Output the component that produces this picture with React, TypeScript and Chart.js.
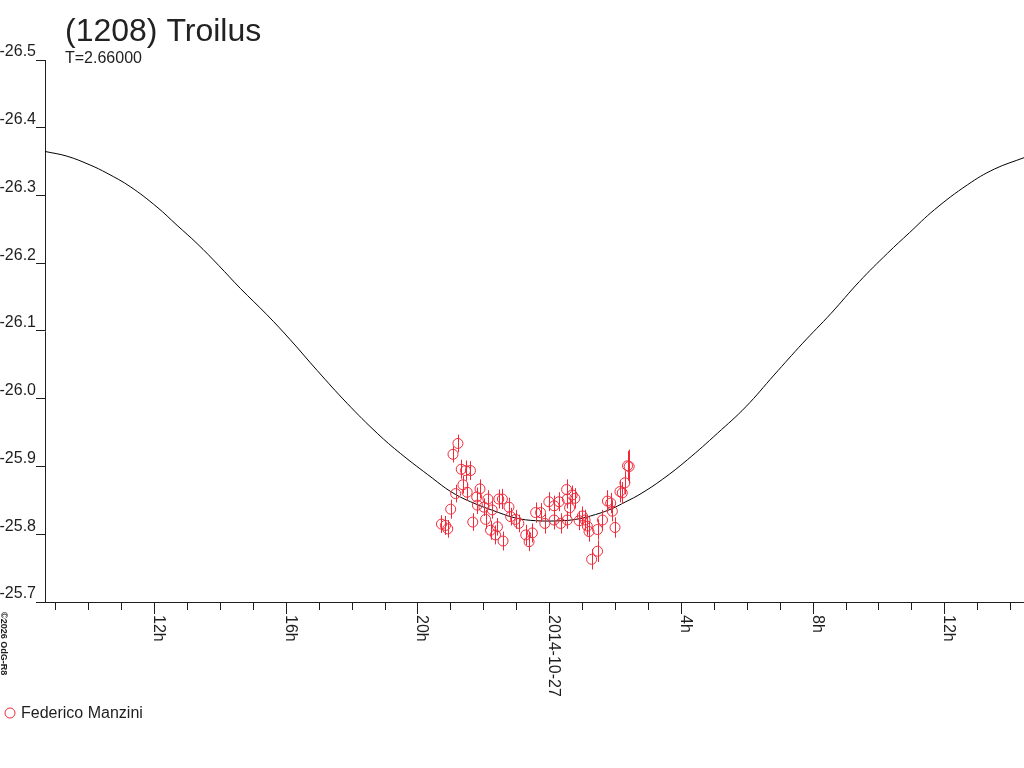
import { useEffect, useRef } from 'react';
import { Chart, registerables, type Plugin } from 'chart.js';

Chart.register(...registerables);

const TITLE = '(1208) Troilus';
const SUBTITLE = 'T=2.66000';
const OBSERVER = 'Federico Manzini';
const CREDIT = '©2026 OdG-R8';

// hours relative to 2014-10-27 00:00
const obsHours = [
    -3.27, -3.15, -3.08, -2.99, -2.92, -2.84, -2.77, -2.67, -2.62, -2.54,
    -2.49, -2.39, -2.32, -2.20, -2.18, -2.10, -1.98, -1.93, -1.86, -1.78,
    -1.73, -1.63, -1.57, -1.53, -1.42, -1.40, -1.22, -1.17, -1.02, -0.92,
    -0.71, -0.61, -0.51, -0.41, -0.26, -0.13, -0.01, 0.15, 0.15, 0.30,
    0.35, 0.53, 0.55, 0.55, 0.62, 0.70, 0.78, 0.91, 1.01, 1.09,
    1.16, 1.21, 1.29, 1.47, 1.47, 1.62, 1.77, 1.87, 1.92, 2.00,
    2.15, 2.22, 2.30, 2.38, 2.43
];
const obsMags = [
    -25.815, -25.813, -25.808, -25.837, -25.918, -25.860, -25.934, -25.896, -25.873, -25.894,
    -25.862, -25.894, -25.818, -25.855, -25.843, -25.867, -25.840, -25.822, -25.852, -25.806,
    -25.836, -25.799, -25.811, -25.852, -25.852, -25.790, -25.840, -25.826, -25.822, -25.816,
    -25.799, -25.789, -25.802, -25.832, -25.832, -25.816, -25.848, -25.842, -25.821, -25.848,
    -25.816, -25.866, -25.852, -25.821, -25.839, -25.858, -25.853, -25.820, -25.827, -25.821,
    -25.812, -25.804, -25.763, -25.775, -25.807, -25.821, -25.849, -25.846, -25.834, -25.810,
    -25.863, -25.861, -25.876, -25.901, -25.900
];
const obsErrors = [
    0.013, 0.014, 0.013, 0.014, 0.012, 0.013, 0.013, 0.014, 0.013, 0.015,
    0.013, 0.014, 0.013, 0.014, 0.013, 0.014, 0.013, 0.014, 0.013, 0.014,
    0.013, 0.014, 0.013, 0.014, 0.015, 0.014, 0.014, 0.013, 0.014, 0.013,
    0.015, 0.014, 0.014, 0.015, 0.014, 0.015, 0.014, 0.015, 0.014, 0.014,
    0.015, 0.015, 0.014, 0.013, 0.014, 0.014, 0.015, 0.014, 0.014, 0.015,
    0.014, 0.015, 0.015, 0.016, 0.015, 0.015, 0.016, 0.015, 0.015, 0.015,
    0.016, 0.016, 0.017, 0.022, 0.025
];

// model light curve
const curveHours = [
    -15.31, -14.64, -13.94, -13.43, -12.72, -11.91, -11.30, -10.69, -10.04, -9.38,
    -8.57, -7.86, -7.05, -6.13, -5.22, -4.51, -3.55, -2.99, -2.39, -1.53,
    -1.02, -0.41, 0.40, 0.81, 1.26, 1.82, 2.33, 2.79, 3.44, 4.20,
    5.11, 5.97, 6.83, 7.70, 8.56, 9.42, 10.28, 10.94, 11.70, 12.71,
    13.52, 14.43
];
const curveMags = [
    -26.365, -26.358, -26.345, -26.333, -26.313, -26.283, -26.256, -26.229, -26.197, -26.163,
    -26.124, -26.087, -26.042, -25.993, -25.949, -25.919, -25.883, -25.863, -25.848, -25.832,
    -25.824, -25.820, -25.820, -25.822, -25.827, -25.836, -25.848, -25.860, -25.881, -25.910,
    -25.949, -25.988, -26.035, -26.082, -26.126, -26.173, -26.215, -26.245, -26.279, -26.316,
    -26.339, -26.356
];

const majorHours = [-12, -8, -4, 0, 4, 8, 12];
const majorLabels = ['12h', '16h', '20h', '2014-10-27', '4h', '8h', '12h'];

const RED = 'rgb(240, 40, 56)';
const INK = '#1e1e1e';
const FONT = '"Liberation Sans", Arial, sans-serif';

const decorations: Plugin<'scatter'> = {
    id: 'decorations',
    afterDatasetsDraw(chart) {
        const { ctx } = chart;
        const x = chart.scales.x;
        const y = chart.scales.y;
        // error bars
        ctx.save();
        ctx.strokeStyle = RED;
        ctx.lineWidth = 1;
        ctx.beginPath();
        obsHours.forEach((h, i) => {
            const px = Math.round(x.getPixelForValue(h)) + 0.5;
            ctx.moveTo(px, y.getPixelForValue(obsMags[i] - obsErrors[i]));
            ctx.lineTo(px, y.getPixelForValue(obsMags[i] + obsErrors[i]));
        });
        ctx.stroke();
        ctx.restore();
    },
    afterDraw(chart) {
        const { ctx, chartArea } = chart;
        const x = chart.scales.x;
        ctx.save();

        // x ticks, hourly, longer every 4h
        ctx.strokeStyle = INK;
        ctx.lineWidth = 1;
        ctx.beginPath();
        x.ticks.forEach(t => {
            const v = Math.round(t.value);
            const px = Math.round(x.getPixelForValue(v)) + 0.5;
            ctx.moveTo(px, chartArea.bottom);
            ctx.lineTo(px, chartArea.bottom + (v % 4 === 0 ? 12 : 8));
        });
        ctx.stroke();

        // x labels, rotated clockwise
        ctx.fillStyle = INK;
        ctx.font = '16px ' + FONT;
        ctx.textAlign = 'left';
        ctx.textBaseline = 'alphabetic';
        majorHours.forEach((h, i) => {
            ctx.save();
            ctx.translate(Math.round(x.getPixelForValue(h)), chartArea.bottom + 13);
            ctx.rotate(Math.PI / 2);
            ctx.fillText(majorLabels[i], 0, 0);
            ctx.restore();
        });

        // title and period
        ctx.fillStyle = '#222';
        ctx.font = '32px ' + FONT;
        ctx.fillText(TITLE, 65, 41);
        ctx.font = '16px ' + FONT;
        ctx.fillText(SUBTITLE, 65, 63);

        // credit
        ctx.save();
        ctx.translate(1, 612);
        ctx.rotate(Math.PI / 2);
        ctx.font = 'bold 9px ' + FONT;
        ctx.fillStyle = INK;
        ctx.fillText(CREDIT, 0, 0);
        ctx.restore();

        // legend
        ctx.strokeStyle = RED;
        ctx.beginPath();
        ctx.arc(10, 713, 5, 0, Math.PI * 2);
        ctx.stroke();
        ctx.fillStyle = INK;
        ctx.font = '16px ' + FONT;
        ctx.fillText(OBSERVER, 21, 718);

        ctx.restore();
    }
};

export default function App() {
    const canvas = useRef<HTMLCanvasElement>(null);

    useEffect(() => {
        document.body.style.margin = '0';
        const chart = new Chart(canvas.current!, {
            type: 'scatter',
            data: {
                datasets: [
                    {
                        label: OBSERVER,
                        data: obsHours.map((h, i) => ({ x: h, y: obsMags[i] })),
                        pointRadius: 5,
                        pointBorderWidth: 1,
                        pointBorderColor: RED,
                        pointBackgroundColor: 'transparent',
                        order: 0
                    },
                    {
                        label: 'model',
                        data: curveHours.map((h, i) => ({ x: h, y: curveMags[i] })),
                        showLine: true,
                        borderColor: '#000',
                        borderWidth: 1,
                        pointRadius: 0,
                        tension: 0.4,
                        order: 1
                    }
                ]
            },
            options: {
                animation: false,
                responsive: true,
                maintainAspectRatio: false,
                layout: { autoPadding: false, padding: { top: 60, left: 0, right: 0, bottom: 0 } },
                plugins: {
                    legend: { display: false },
                    tooltip: { enabled: false },
                    title: { display: false }
                },
                scales: {
                    x: {
                        type: 'linear',
                        min: -15.31,
                        max: 14.42,
                        ticks: { display: false, stepSize: 1, includeBounds: false },
                        grid: { display: false },
                        border: { display: true, color: INK, width: 1 },
                        afterFit: (scale) => { scale.height = 166; }
                    },
                    y: {
                        type: 'linear',
                        min: -26.5,
                        max: -25.7,
                        reverse: true,
                        ticks: {
                            stepSize: 0.1,
                            padding: 0,
                            labelOffset: -8,
                            color: INK,
                            font: { family: FONT, size: 16 },
                            callback: (v) => Number(v).toFixed(1)
                        },
                        grid: {
                            drawOnChartArea: false,
                            drawTicks: true,
                            tickLength: 9,
                            color: INK
                        },
                        border: { display: true, color: INK, width: 1 },
                        afterFit: (scale) => { scale.width = 45; }
                    }
                }
            },
            plugins: [decorations]
        });

        return () => {
            chart.destroy();
        };
    }, []);

    return (
        <div style={{ width: 1024, height: 768, position: 'relative', background: '#fff' }}>
            <canvas ref={canvas} />
        </div>
    );
}
